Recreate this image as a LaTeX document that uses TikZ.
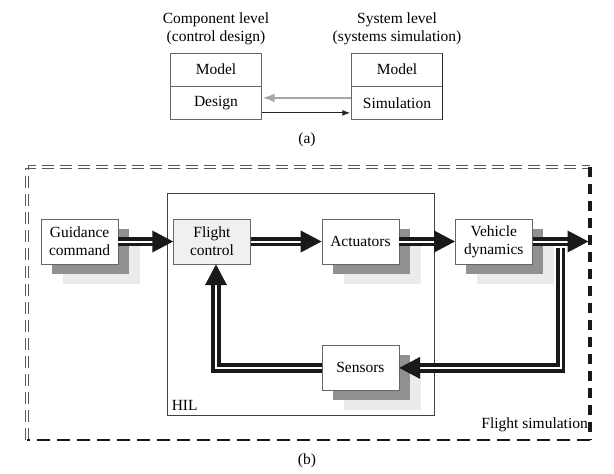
\documentclass[tikz,border=0pt]{standalone}
\usepackage{fontspec}
\setmainfont{Liberation Serif}
\usetikzlibrary{arrows.meta,calc,positioning,shadows}
\newcommand\figfont{\fontsize{15.5}{18}\selectfont}
\tikzset{every picture/.style={
  >=Latex                       % LaTeX style arrows.
  }
}

\begin{document}
\begin{tikzpicture}[
    x=1pt,y=-1pt,
    font=\figfont,
    cell/.style={
      draw=black!60,
      minimum width=91pt,
      minimum height=33pt,
      inner sep=0pt
    },
    block/.style={
      draw=black!60,
      fill=white,
      align=center,
      minimum width=77pt,
      minimum height=45pt,
      inner sep=0pt
    },
    shadowed/.style={
      general shadow={fill=black!8,draw=none,shadow xshift=22pt,shadow yshift=-20pt},
      general shadow={fill=black!43,draw=none,shadow xshift=11pt,shadow yshift=-10pt}
    },
    linkd/.style={
      draw=black!90,
      double=white,
      double distance=2pt,
      line width=3.6pt,
      -{Triangle[length=21pt,width=21pt]}
    }]

    \useasboundingbox (0,0) rectangle (614,474);

    % Part (a): component level and system level.
    \node[align=center] (comptitle) at (216,29) {Component level\\(control design)};
    \node[align=center] (systitle) at (397,29) {System level\\(systems simulation)};

    \node[cell] (cmodel) at (216,69.5) {Model};
    \node[cell,below=0pt of cmodel] (cdesign) {Design};
    \node[cell] (smodel) at (397,69.5) {Model};
    \node[cell,below=0pt of smodel] (ssim) {Simulation};
    \draw[line width=1.5pt,black!85] (smodel.north east) -- (ssim.south east);

    % Link the two levels.
    \draw[->,line width=2pt,black!35,shorten >=1pt]
      ([yshift=5pt] ssim.west) -- ([yshift=5pt] ssim.west -| cdesign.east);
    \draw[->,line width=1.1pt,black!85,shorten >=1pt]
      ([yshift=-10pt] cdesign.east) -- ([yshift=-10pt] cdesign.east -| ssim.west);

    \node (labela) at (307,140) {(a)};

    % Part (b): the flight simulation.
    \coordinate (fnw) at (27,167);
    \coordinate (fne) at (590,167);
    \coordinate (fse) at (590,440);
    \coordinate (fsw) at (27,440);

    % Double dashed top and left edges, heavy right and bottom edges.
    \foreach \d in {-1.6,1.6} {
      \draw[black!65,line width=1.2pt,dash pattern=on 12pt off 6pt]
        ([xshift=\d pt] fsw) -- ([xshift=\d pt,yshift=\d pt] fnw)
        -- ([yshift=\d pt] fne);
    };
    \draw[black!90,line width=3.5pt,dash pattern=on 10pt off 7pt] (fne) -- (fse);
    \draw[black!90,line width=2.5pt,dash pattern=on 13pt off 7pt] (fse) -- (fsw);
    \node[anchor=south east,inner sep=2pt] (flsim) at ([yshift=6pt] fse)
      {Flight simulation};

    % The hardware in the loop.
    \node[draw=black!75,line width=0.8pt,minimum width=267pt,minimum height=222pt]
      (hil) at (300.5,304) {};
    \node[anchor=south west,inner sep=5pt] (hillabel) at (hil.south west) {HIL};

    % The blocks.
    \node[block,fill=black!6] (fc) at (212,241.5) {Flight\\control};
    \node[block,shadowed,left=55pt of fc] (gc) {Guidance\\command};
    \node[block,shadowed,right=71pt of fc] (act) {Actuators};
    \node[block,shadowed,right=56pt of act] (vd) {Vehicle\\dynamics};
    \node[block,shadowed,below=81pt of act] (sens) {Sensors};

    \coordinate (branch) at ([xshift=28pt] vd.east);
    \coordinate (out) at ([xshift=56pt] vd.east);

    % Connect the blocks.
    \draw[linkd] ([yshift=-6pt] branch) |- (sens.east);
    \draw[linkd] (gc) -- (fc);
    \draw[linkd] (fc) -- (act);
    \draw[linkd] (act) -- (vd);
    \draw[linkd] (vd) -- (out);
    \draw[linkd] (sens.west) -| ([xshift=4pt] fc.south);

    \node (labelb) at (307,461) {(b)};
  \end{tikzpicture}
\end{document}
